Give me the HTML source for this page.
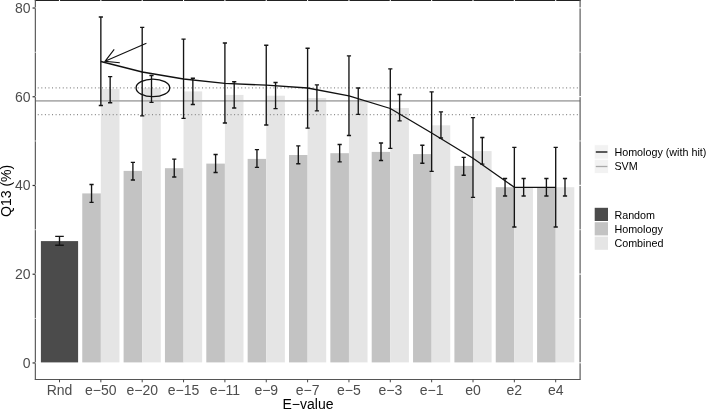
<!DOCTYPE html>
<html><head><meta charset="utf-8"><title>Q13 vs E-value</title>
<style>
html,body{margin:0;padding:0;background:#fff;}
body{width:706px;height:409px;overflow:hidden;position:relative;}
svg text{font-family:"Liberation Sans",sans-serif;}
</style></head><body>
<svg width="706" height="409" viewBox="0 0 706 409" style="position:absolute;left:0;top:0">
<rect x="0" y="0" width="706" height="409" fill="#fff"/>
<rect x="40.90" y="241.1" width="37.20" height="121.30" fill="#4b4b4b"/>
<rect x="82.25" y="193.4" width="18.60" height="169.00" fill="#c3c3c3"/>
<rect x="100.85" y="89.1" width="18.60" height="273.30" fill="#e5e5e5"/>
<rect x="123.60" y="170.9" width="18.60" height="191.50" fill="#c3c3c3"/>
<rect x="142.20" y="88.2" width="18.60" height="274.20" fill="#e5e5e5"/>
<rect x="164.95" y="168.2" width="18.60" height="194.20" fill="#c3c3c3"/>
<rect x="183.55" y="91.4" width="18.60" height="271.00" fill="#e5e5e5"/>
<rect x="206.30" y="163.6" width="18.60" height="198.80" fill="#c3c3c3"/>
<rect x="224.90" y="94.9" width="18.60" height="267.50" fill="#e5e5e5"/>
<rect x="247.65" y="158.9" width="18.60" height="203.50" fill="#c3c3c3"/>
<rect x="266.25" y="95.7" width="18.60" height="266.70" fill="#e5e5e5"/>
<rect x="289.00" y="155" width="18.60" height="207.40" fill="#c3c3c3"/>
<rect x="307.60" y="98" width="18.60" height="264.40" fill="#e5e5e5"/>
<rect x="330.35" y="153.2" width="18.60" height="209.20" fill="#c3c3c3"/>
<rect x="348.95" y="101.5" width="18.60" height="260.90" fill="#e5e5e5"/>
<rect x="371.70" y="151.9" width="18.60" height="210.50" fill="#c3c3c3"/>
<rect x="390.30" y="108" width="18.60" height="254.40" fill="#e5e5e5"/>
<rect x="413.05" y="154.1" width="18.60" height="208.30" fill="#c3c3c3"/>
<rect x="431.65" y="125.3" width="18.60" height="237.10" fill="#e5e5e5"/>
<rect x="454.40" y="165.9" width="18.60" height="196.50" fill="#c3c3c3"/>
<rect x="473.00" y="151.1" width="18.60" height="211.30" fill="#e5e5e5"/>
<rect x="495.75" y="187.2" width="18.60" height="175.20" fill="#c3c3c3"/>
<rect x="514.35" y="187.2" width="18.60" height="175.20" fill="#e5e5e5"/>
<rect x="537.10" y="187.2" width="18.60" height="175.20" fill="#c3c3c3"/>
<rect x="555.70" y="187.2" width="18.60" height="175.20" fill="#e5e5e5"/>
<line x1="35.35" x2="580.1" y1="100.9" y2="100.9" stroke="#b0b0b0" stroke-width="1.6"/>
<line x1="35.35" x2="580.1" y1="87.9" y2="87.9" stroke="#8a8a8a" stroke-width="1.2" stroke-dasharray="1 2.57" stroke-dashoffset="-2.4"/>
<line x1="35.35" x2="580.1" y1="114.6" y2="114.6" stroke="#8a8a8a" stroke-width="1.2" stroke-dasharray="1 2.57" stroke-dashoffset="-2.4"/>
<path d="M55.20 236.4H63.80M55.20 245.2H63.80M59.50 236.4V245.2" stroke="#151515" stroke-width="1.35" fill="none"/>
<path d="M89.45 184.5H93.65M89.45 202.3H93.65M91.55 184.5V202.3" stroke="#151515" stroke-width="1.35" fill="none"/>
<path d="M108.05 76.6H112.25M108.05 102.7H112.25M110.15 76.6V102.7" stroke="#151515" stroke-width="1.35" fill="none"/>
<path d="M98.75 17H102.95M98.75 105.5H102.95M100.85 17V105.5" stroke="#151515" stroke-width="1.35" fill="none"/>
<path d="M130.80 162.3H135.00M130.80 180H135.00M132.90 162.3V180" stroke="#151515" stroke-width="1.35" fill="none"/>
<path d="M149.40 75.5H153.60M149.40 102.3H153.60M151.50 75.5V102.3" stroke="#151515" stroke-width="1.35" fill="none"/>
<path d="M140.10 27.3H144.30M140.10 115.9H144.30M142.20 27.3V115.9" stroke="#151515" stroke-width="1.35" fill="none"/>
<path d="M172.15 159.1H176.35M172.15 177H176.35M174.25 159.1V177" stroke="#151515" stroke-width="1.35" fill="none"/>
<path d="M190.75 78.2H194.95M190.75 104.5H194.95M192.85 78.2V104.5" stroke="#151515" stroke-width="1.35" fill="none"/>
<path d="M181.45 39.1H185.65M181.45 118.4H185.65M183.55 39.1V118.4" stroke="#151515" stroke-width="1.35" fill="none"/>
<path d="M213.50 154.5H217.70M213.50 172.5H217.70M215.60 154.5V172.5" stroke="#151515" stroke-width="1.35" fill="none"/>
<path d="M232.10 81.7H236.30M232.10 108H236.30M234.20 81.7V108" stroke="#151515" stroke-width="1.35" fill="none"/>
<path d="M222.80 43H227.00M222.80 123H227.00M224.90 43V123" stroke="#151515" stroke-width="1.35" fill="none"/>
<path d="M254.85 149.6H259.05M254.85 167.4H259.05M256.95 149.6V167.4" stroke="#151515" stroke-width="1.35" fill="none"/>
<path d="M273.45 82.5H277.65M273.45 108.6H277.65M275.55 82.5V108.6" stroke="#151515" stroke-width="1.35" fill="none"/>
<path d="M264.15 45.2H268.35M264.15 125H268.35M266.25 45.2V125" stroke="#151515" stroke-width="1.35" fill="none"/>
<path d="M296.20 145.9H300.40M296.20 163.7H300.40M298.30 145.9V163.7" stroke="#151515" stroke-width="1.35" fill="none"/>
<path d="M314.80 84.8H319.00M314.80 110.9H319.00M316.90 84.8V110.9" stroke="#151515" stroke-width="1.35" fill="none"/>
<path d="M305.50 48.2H309.70M305.50 128.1H309.70M307.60 48.2V128.1" stroke="#151515" stroke-width="1.35" fill="none"/>
<path d="M337.55 144.5H341.75M337.55 161.8H341.75M339.65 144.5V161.8" stroke="#151515" stroke-width="1.35" fill="none"/>
<path d="M356.15 88H360.35M356.15 114.3H360.35M358.25 88V114.3" stroke="#151515" stroke-width="1.35" fill="none"/>
<path d="M346.85 55.9H351.05M346.85 135.5H351.05M348.95 55.9V135.5" stroke="#151515" stroke-width="1.35" fill="none"/>
<path d="M378.90 143H383.10M378.90 160.5H383.10M381.00 143V160.5" stroke="#151515" stroke-width="1.35" fill="none"/>
<path d="M397.50 94.5H401.70M397.50 120.9H401.70M399.60 94.5V120.9" stroke="#151515" stroke-width="1.35" fill="none"/>
<path d="M388.20 68.8H392.40M388.20 148.4H392.40M390.30 68.8V148.4" stroke="#151515" stroke-width="1.35" fill="none"/>
<path d="M420.25 145.2H424.45M420.25 163.2H424.45M422.35 145.2V163.2" stroke="#151515" stroke-width="1.35" fill="none"/>
<path d="M438.85 111.8H443.05M438.85 138H443.05M440.95 111.8V138" stroke="#151515" stroke-width="1.35" fill="none"/>
<path d="M429.55 91.8H433.75M429.55 171.4H433.75M431.65 91.8V171.4" stroke="#151515" stroke-width="1.35" fill="none"/>
<path d="M461.60 157.3H465.80M461.60 175.2H465.80M463.70 157.3V175.2" stroke="#151515" stroke-width="1.35" fill="none"/>
<path d="M480.20 137.5H484.40M480.20 164.1H484.40M482.30 137.5V164.1" stroke="#151515" stroke-width="1.35" fill="none"/>
<path d="M470.90 117.6H475.10M470.90 197.3H475.10M473.00 117.6V197.3" stroke="#151515" stroke-width="1.35" fill="none"/>
<path d="M502.95 178.5H507.15M502.95 196H507.15M505.05 178.5V196" stroke="#151515" stroke-width="1.35" fill="none"/>
<path d="M521.55 178.5H525.75M521.55 196H525.75M523.65 178.5V196" stroke="#151515" stroke-width="1.35" fill="none"/>
<path d="M512.25 147.4H516.45M512.25 227H516.45M514.35 147.4V227" stroke="#151515" stroke-width="1.35" fill="none"/>
<path d="M544.30 178.5H548.50M544.30 196H548.50M546.40 178.5V196" stroke="#151515" stroke-width="1.35" fill="none"/>
<path d="M562.90 178.5H567.10M562.90 196H567.10M565.00 178.5V196" stroke="#151515" stroke-width="1.35" fill="none"/>
<path d="M553.60 147.4H557.80M553.60 227H557.80M555.70 147.4V227" stroke="#151515" stroke-width="1.35" fill="none"/>
<polyline points="100.85,61.5 142.20,72.0 183.55,79.0 224.90,83.4 266.25,85.2 307.60,88.0 348.95,95.8 390.30,108.5 431.65,133 473.00,158.2 514.35,187.3 555.70,187.3" fill="none" stroke="#111" stroke-width="1.3" stroke-linejoin="round"/>
<path d="M146.4 43.2L105 61.3M114.2 49.3L105 61.3L119.8 62.7" fill="none" stroke="#111" stroke-width="1.1"/>
<ellipse cx="152.9" cy="87.9" rx="16.8" ry="8.8" fill="none" stroke="#111" stroke-width="1.3"/>
<line x1="34.85" x2="580.6" y1="0.5" y2="0.5" stroke="#222" stroke-width="1"/>
<line x1="580.1" x2="580.1" y1="0" y2="379.5" stroke="#555" stroke-width="1.15"/>
<line x1="35.35" x2="35.35" y1="0" y2="380.0" stroke="#555" stroke-width="1.15"/>
<line x1="34.85" x2="580.6" y1="379.5" y2="379.5" stroke="#555" stroke-width="1"/>
<line x1="34.35" x2="36.35" y1="362.80" y2="362.80" stroke="#fff" stroke-width="1.1"/>
<line x1="579.1" x2="581.1" y1="362.80" y2="362.80" stroke="#fff" stroke-width="1.1"/>
<line x1="34.35" x2="36.35" y1="318.44" y2="318.44" stroke="#fff" stroke-width="0.7"/>
<line x1="579.1" x2="581.1" y1="318.44" y2="318.44" stroke="#fff" stroke-width="0.7"/>
<line x1="34.35" x2="36.35" y1="274.07" y2="274.07" stroke="#fff" stroke-width="1.1"/>
<line x1="579.1" x2="581.1" y1="274.07" y2="274.07" stroke="#fff" stroke-width="1.1"/>
<line x1="34.35" x2="36.35" y1="229.71" y2="229.71" stroke="#fff" stroke-width="0.7"/>
<line x1="579.1" x2="581.1" y1="229.71" y2="229.71" stroke="#fff" stroke-width="0.7"/>
<line x1="34.35" x2="36.35" y1="185.34" y2="185.34" stroke="#fff" stroke-width="1.1"/>
<line x1="579.1" x2="581.1" y1="185.34" y2="185.34" stroke="#fff" stroke-width="1.1"/>
<line x1="34.35" x2="36.35" y1="140.98" y2="140.98" stroke="#fff" stroke-width="0.7"/>
<line x1="579.1" x2="581.1" y1="140.98" y2="140.98" stroke="#fff" stroke-width="0.7"/>
<line x1="34.35" x2="36.35" y1="96.61" y2="96.61" stroke="#fff" stroke-width="1.1"/>
<line x1="579.1" x2="581.1" y1="96.61" y2="96.61" stroke="#fff" stroke-width="1.1"/>
<line x1="34.35" x2="36.35" y1="52.25" y2="52.25" stroke="#fff" stroke-width="0.7"/>
<line x1="579.1" x2="581.1" y1="52.25" y2="52.25" stroke="#fff" stroke-width="0.7"/>
<line x1="34.35" x2="36.35" y1="7.88" y2="7.88" stroke="#fff" stroke-width="1.1"/>
<line x1="579.1" x2="581.1" y1="7.88" y2="7.88" stroke="#fff" stroke-width="1.1"/>
<line x1="59.50" x2="59.50" y1="0" y2="1.2" stroke="#fff" stroke-width="1.1"/>
<line x1="100.85" x2="100.85" y1="0" y2="1.2" stroke="#fff" stroke-width="1.1"/>
<line x1="142.20" x2="142.20" y1="0" y2="1.2" stroke="#fff" stroke-width="1.1"/>
<line x1="183.55" x2="183.55" y1="0" y2="1.2" stroke="#fff" stroke-width="1.1"/>
<line x1="224.90" x2="224.90" y1="0" y2="1.2" stroke="#fff" stroke-width="1.1"/>
<line x1="266.25" x2="266.25" y1="0" y2="1.2" stroke="#fff" stroke-width="1.1"/>
<line x1="307.60" x2="307.60" y1="0" y2="1.2" stroke="#fff" stroke-width="1.1"/>
<line x1="348.95" x2="348.95" y1="0" y2="1.2" stroke="#fff" stroke-width="1.1"/>
<line x1="390.30" x2="390.30" y1="0" y2="1.2" stroke="#fff" stroke-width="1.1"/>
<line x1="431.65" x2="431.65" y1="0" y2="1.2" stroke="#fff" stroke-width="1.1"/>
<line x1="473.00" x2="473.00" y1="0" y2="1.2" stroke="#fff" stroke-width="1.1"/>
<line x1="514.35" x2="514.35" y1="0" y2="1.2" stroke="#fff" stroke-width="1.1"/>
<line x1="555.70" x2="555.70" y1="0" y2="1.2" stroke="#fff" stroke-width="1.1"/>
<line x1="32.550000000000004" x2="35.35" y1="362.95" y2="362.95" stroke="#333" stroke-width="1.2"/>
<text x="30.6" y="367.80" text-anchor="end" font-size="14" fill="#4d4d4d">0</text>
<line x1="32.550000000000004" x2="35.35" y1="274.22" y2="274.22" stroke="#333" stroke-width="1.2"/>
<text x="30.6" y="279.07" text-anchor="end" font-size="14" fill="#4d4d4d">20</text>
<line x1="32.550000000000004" x2="35.35" y1="185.49" y2="185.49" stroke="#333" stroke-width="1.2"/>
<text x="30.6" y="190.34" text-anchor="end" font-size="14" fill="#4d4d4d">40</text>
<line x1="32.550000000000004" x2="35.35" y1="96.76" y2="96.76" stroke="#333" stroke-width="1.2"/>
<text x="30.6" y="101.61" text-anchor="end" font-size="14" fill="#4d4d4d">60</text>
<line x1="32.550000000000004" x2="35.35" y1="8.03" y2="8.03" stroke="#333" stroke-width="1.2"/>
<text x="30.6" y="12.88" text-anchor="end" font-size="14" fill="#4d4d4d">80</text>
<line x1="59.50" x2="59.50" y1="379.5" y2="382.3" stroke="#444" stroke-width="1"/>
<text x="59.50" y="394.5" text-anchor="middle" font-size="14" fill="#4d4d4d">Rnd</text>
<line x1="100.85" x2="100.85" y1="379.5" y2="382.3" stroke="#444" stroke-width="1"/>
<text x="100.85" y="394.5" text-anchor="middle" font-size="14" fill="#4d4d4d">e−50</text>
<line x1="142.20" x2="142.20" y1="379.5" y2="382.3" stroke="#444" stroke-width="1"/>
<text x="142.20" y="394.5" text-anchor="middle" font-size="14" fill="#4d4d4d">e−20</text>
<line x1="183.55" x2="183.55" y1="379.5" y2="382.3" stroke="#444" stroke-width="1"/>
<text x="183.55" y="394.5" text-anchor="middle" font-size="14" fill="#4d4d4d">e−15</text>
<line x1="224.90" x2="224.90" y1="379.5" y2="382.3" stroke="#444" stroke-width="1"/>
<text x="224.90" y="394.5" text-anchor="middle" font-size="14" fill="#4d4d4d">e−11</text>
<line x1="266.25" x2="266.25" y1="379.5" y2="382.3" stroke="#444" stroke-width="1"/>
<text x="266.25" y="394.5" text-anchor="middle" font-size="14" fill="#4d4d4d">e−9</text>
<line x1="307.60" x2="307.60" y1="379.5" y2="382.3" stroke="#444" stroke-width="1"/>
<text x="307.60" y="394.5" text-anchor="middle" font-size="14" fill="#4d4d4d">e−7</text>
<line x1="348.95" x2="348.95" y1="379.5" y2="382.3" stroke="#444" stroke-width="1"/>
<text x="348.95" y="394.5" text-anchor="middle" font-size="14" fill="#4d4d4d">e−5</text>
<line x1="390.30" x2="390.30" y1="379.5" y2="382.3" stroke="#444" stroke-width="1"/>
<text x="390.30" y="394.5" text-anchor="middle" font-size="14" fill="#4d4d4d">e−3</text>
<line x1="431.65" x2="431.65" y1="379.5" y2="382.3" stroke="#444" stroke-width="1"/>
<text x="431.65" y="394.5" text-anchor="middle" font-size="14" fill="#4d4d4d">e−1</text>
<line x1="473.00" x2="473.00" y1="379.5" y2="382.3" stroke="#444" stroke-width="1"/>
<text x="473.00" y="394.5" text-anchor="middle" font-size="14" fill="#4d4d4d">e0</text>
<line x1="514.35" x2="514.35" y1="379.5" y2="382.3" stroke="#444" stroke-width="1"/>
<text x="514.35" y="394.5" text-anchor="middle" font-size="14" fill="#4d4d4d">e2</text>
<line x1="555.70" x2="555.70" y1="379.5" y2="382.3" stroke="#444" stroke-width="1"/>
<text x="555.70" y="394.5" text-anchor="middle" font-size="14" fill="#4d4d4d">e4</text>
<text x="308" y="409" text-anchor="middle" font-size="14" fill="#000">E−value</text>
<text transform="translate(10.5 190.9) rotate(-90)" text-anchor="middle" font-size="14" fill="#000">Q13 (%)</text>
<rect x="594.2" y="144.8" width="14.4" height="14.4" fill="#f2f2f2" stroke="#fff" stroke-width="0.8"/>
<rect x="594.2" y="159.2" width="14.4" height="14.4" fill="#f2f2f2" stroke="#fff" stroke-width="0.8"/>
<line x1="595.8" x2="607.4" y1="152" y2="152" stroke="#111" stroke-width="1.35"/>
<line x1="595.8" x2="607.4" y1="166.5" y2="166.5" stroke="#a9a9a9" stroke-width="1.3"/>
<text x="614.4" y="155.5" font-size="10.75" fill="#000">Homology (with hit)</text>
<text x="614.4" y="169.9" font-size="10.75" fill="#000">SVM</text>
<rect x="594.7" y="207.80" width="13.3" height="13.2" fill="#4b4b4b"/>
<text x="614.4" y="218.50" font-size="10.75" fill="#000">Random</text>
<rect x="594.7" y="222.20" width="13.3" height="13.2" fill="#c3c3c3"/>
<text x="614.4" y="232.60" font-size="10.75" fill="#000">Homology</text>
<rect x="594.7" y="236.60" width="13.3" height="13.2" fill="#e5e5e5"/>
<text x="614.4" y="247.00" font-size="10.75" fill="#000">Combined</text>
</svg>
</body></html>
